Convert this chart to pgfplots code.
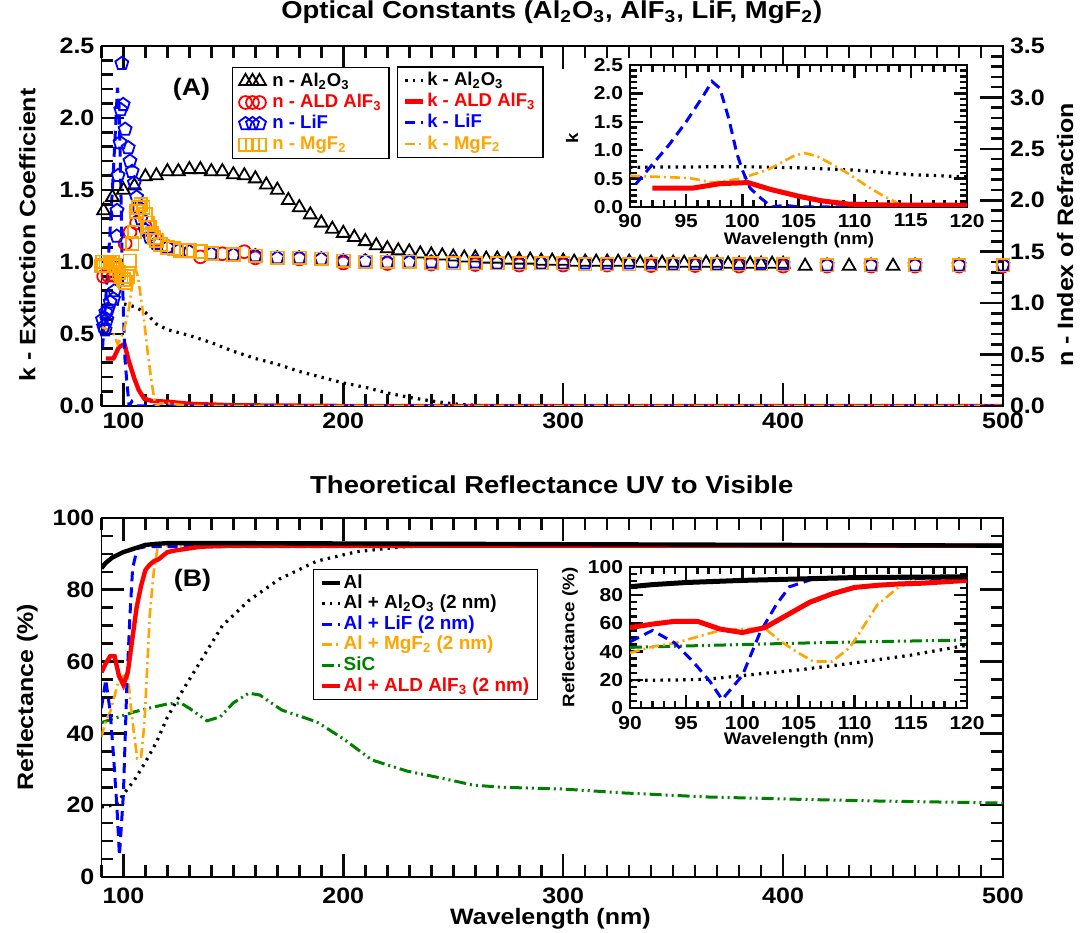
\documentclass[border=0pt]{standalone}
\usepackage{fontspec}
\setmainfont{Liberation Sans}[FakeStretch=1.12]
\newfontfamily\legfont{Liberation Sans}
\usepackage{pgfplots}
\pgfplotsset{compat=1.18}
\usepackage{pgfplotstable}

\definecolor{myorange}{RGB}{255,165,0}
\definecolor{mygreen}{RGB}{0,128,0}
\definecolor{tickgray}{RGB}{12,12,12}

\pgfplotstableread{
x y
90 0.70
95 0.705
100 0.71
105 0.69
110 0.65
115 0.57
120 0.53
130 0.49
140 0.44
150 0.38
160 0.33
170 0.29
180 0.24
190 0.20
200 0.16
210 0.13
220 0.09
230 0.06
240 0.035
250 0.015
260 0.005
270 0.0
500 0.0
}\kAlO
\pgfplotstableread{
x y
92 0.33
95.5 0.33
98 0.41
100.5 0.43
102.5 0.31
105 0.19
107 0.11
109.5 0.05
113 0.035
120 0.03
130 0.015
150 0.005
200 0.0
500 0.0
}\kAlF
\pgfplotstableread{
x y
90.5 0.40
92 0.75
93.5 1.10
95 1.50
96.5 1.95
97.3 2.21
98 2.09
98.8 1.55
99.5 0.95
100 0.65
100.7 0.33
101.5 0.18
102.6 0.0
103.8 0.03
105 0.0
500 0.0
}\kLiF
\pgfplotstableread{
x y
90 0.55
92.7 0.53
95.3 0.51
97.4 0.43
99.8 0.50
102.2 0.65
104.5 0.89
105.5 0.95
106.6 0.90
108 0.75
109.5 0.58
111 0.38
112.5 0.20
114 0.05
115 0.0
117 0.02
120 0.02
130 0.0
500 0.0
}\kMgF

\pgfplotstableread{
x y
91 1.90
95 2.03
100 2.10
105 2.14
110 2.23
115 2.24
120 2.28
125 2.28
130 2.30
135 2.30
140 2.28
145 2.28
150 2.25
155 2.24
160 2.21
165 2.15
170 2.10
175 2.00
180 1.93
185 1.86
190 1.78
195 1.72
200 1.68
205 1.64
210 1.60
215 1.56
220 1.53
225 1.51
230 1.50
235 1.48
240 1.47
245 1.46
250 1.45
255 1.44
260 1.44
265 1.43
270 1.43
275 1.42
280 1.42
285 1.42
290 1.41
295 1.41
300 1.41
305 1.40
310 1.40
315 1.40
320 1.40
325 1.40
330 1.40
335 1.39
340 1.39
345 1.39
350 1.39
355 1.39
360 1.39
365 1.39
370 1.39
375 1.38
380 1.38
385 1.38
390 1.38
395 1.38
400 1.38
410 1.36
430 1.36
450 1.36
}\nAlO
\pgfplotstableread{
x y
91 1.26
93 1.27
95.5 1.27
100.8 1.58
103 1.69
106 1.78
110 1.74
115 1.62
120 1.55
135 1.45
145 1.48
155 1.50
160 1.44
180 1.43
200 1.39
220 1.385
240 1.38
260 1.375
280 1.37
300 1.37
320 1.37
340 1.365
360 1.365
380 1.36
400 1.36
420 1.36
440 1.36
460 1.36
480 1.36
500 1.36
}\nAlF
\pgfplotstableread{
x y
90.5 0.84
91 0.77
91.7 0.74
92 0.91
92.5 0.84
93 0.94
94 1.01
95.5 1.04
96 1.12
97 1.65
97.1 1.90
97.6 2.24
98.5 2.56
98.8 2.88
99.3 3.33
99.9 2.93
100.8 2.69
102.2 2.51
103 2.38
104 2.28
105 2.17
106 2.03
107 1.93
108 1.82
110 1.71
112 1.64
115 1.58
120 1.54
125 1.51
130 1.50
140 1.48
150 1.47
160 1.46
170 1.44
180 1.44
190 1.43
200 1.41
210 1.41
220 1.40
230 1.40
240 1.40
250 1.40
260 1.40
270 1.39
280 1.39
290 1.39
300 1.39
310 1.39
320 1.39
330 1.39
340 1.39
350 1.38
360 1.38
370 1.38
380 1.38
390 1.38
400 1.38
420 1.37
440 1.37
460 1.37
480 1.37
500 1.37
}\nLiF
\pgfplotstableread{
x y
90 1.36
90.5 1.40
91 1.37
92 1.40
93 1.36
94 1.39
95 1.40
96 1.37
97 1.33
98 1.30
99 1.26
100 1.23
101 1.20
102 1.26
103 1.41
104 1.58
105 1.69
106 1.89
107 1.93
108 1.96
109 1.93
110 1.86
111 1.78
112 1.74
113 1.68
114 1.64
115 1.61
117 1.57
120 1.54
123 1.53
126 1.51
130 1.51
135 1.50
140 1.48
150 1.47
160 1.46
170 1.44
180 1.44
190 1.43
200 1.41
210 1.40
220 1.40
230 1.40
240 1.39
250 1.39
260 1.39
270 1.39
280 1.39
290 1.39
300 1.39
310 1.38
320 1.38
330 1.38
340 1.38
350 1.38
360 1.38
370 1.38
380 1.38
390 1.38
400 1.38
420 1.37
440 1.37
460 1.37
480 1.37
500 1.37
}\nMgF

\pgfplotstableread{
x y
90 86
92 87.5
95 89
100 90.5
105 91.5
110 92.5
115 92.8
120 93
150 93
200 92.9
300 92.7
400 92.5
500 92.3
}\rAl
\pgfplotstableread{
x y
90 19.5
95 20
97 20.5
100 23
105 27
110 32
115 37.5
120 44.5
126 51
135 60
145 70
157 77
171 83
188 88
206 90.6
227 92
250 92.3
300 92.4
500 92.3
}\rAlO
\pgfplotstableread{
x y
90 47
92 55
94 46
95.6 33
97.1 19
98.2 6
100 23
101.6 54
103 73
104.2 86
106.3 91.5
110 92
500 92.2
}\rLiF
\pgfplotstableread{
x y
90 39
92 43.5
94 46
96 50.5
98 55
100 56
102 56.5
103.3 48
104.8 40
106.3 33
108 33
109.5 42.5
110 48
112 73
113.8 85
115.6 92
120 92.3
500 92.3
}\rMgF
\pgfplotstableread{
x y
90 43
95 44
100 45
105 46
110 46.8
115 47.5
120 48.2
126 48.5
130 47
138 43.5
144 44.6
150 48.5
157 51.2
162 50.7
172 46.5
188 43.2
200 38.5
213 32.6
229 29.5
245 27.5
259 25.6
272 25
300 24.5
328 23.4
365 22.3
403 21.7
440 21.2
500 20.6
}\rSiC
\pgfplotstableread{
x y
90 57
92 59.5
94 61.5
96 61.5
98 56
100 53.5
102 57
104 66
106 75
108 81
110 85.5
112 87
114 88
116 88.5
118 89.5
120 90.5
124 91
135 92
150 92.3
500 92.3
}\rAlF

\tikzset{
  sAlO/.style={black, line width=1.6bp, dash pattern=on 1.2bp off 2.6bp},
  sAlF/.style={red, line width=2.2bp},
  sLiF/.style={blue, line width=1.5bp, dash pattern=on 5bp off 3bp},
  sMgF/.style={myorange, line width=1.3bp, dash pattern=on 5bp off 2bp on 1bp off 2bp},
  sSiC/.style={mygreen, line width=1.5bp, dash pattern=on 6bp off 2bp on 1bp off 2bp on 1bp off 2bp},
  sAl/.style={black, line width=2.2bp},
}

\pgfplotsset{
  every axis/.append style={
    scale only axis, font=\bfseries,
    axis line style={line width=0.8bp},
  },
  mainax/.style={
    tick style={tickgray, line width=1.3bp},
    major tick length=11.5bp, minor tick length=6bp,
    tick label style={font=\bfseries\fontsize{11.2}{13}\selectfont},
    label style={font=\bfseries\fontsize{11.2}{13}\selectfont},
    title style={font=\bfseries\fontsize{12.3}{14}\selectfont},
    /pgf/number format/assume math mode=true,
  },
  insetax/.style={
    tick style={tickgray, line width=1.2bp},
    major tick length=6.5bp, minor tick length=3.5bp,
    tick label style={font=\bfseries\fontsize{9.4}{11}\selectfont},
    label style={font=\bfseries\fontsize{8.4}{10}\selectfont},
    axis background/.style={fill=white},
    /pgf/number format/assume math mode=true,
  },
  lineleg/.style={
    legend image code/.code={\draw[##1] (0bp,0bp) -- (9bp,0bp);},
    legend cell align=left,
  },
  legbox/.style={
    legend style={draw=black, line width=0.7bp, fill=white,
      font=\legfont\bfseries\fontsize{9.3}{10}\selectfont,
      inner xsep=3bp, inner ysep=1.5bp, row sep=0bp,
      nodes={inner sep=0.8bp, text height=7bp, text depth=2bp}},
  },
}

\begin{document}
\begin{tikzpicture}
\useasboundingbox (0bp,0bp) rectangle (541bp,466.5bp);

% ================= Panel A: k axis =================
\begin{axis}[mainax,
  at={(50.7bp,263.5bp)}, anchor=south west, width=450.8bp, height=180bp,
  xmin=90, xmax=500, ymin=0, ymax=2.5,
  xtick={100,200,300,400,500}, minor xtick={90,100,...,500},
  ytick={0,0.5,...,2.5}, minor ytick={0.1,0.2,...,2.41},
  ytick pos=left,
  yticklabel style={/pgf/number format/.cd, fixed, fixed zerofill, precision=1},
  ylabel={k - Extinction Coefficient},
  ylabel style={at={(axis description cs:-0.082,0.475)}, anchor=center},
  title={Optical Constants (Al\textsubscript{2}O\textsubscript{3}, AlF\textsubscript{3}, LiF, MgF\textsubscript{2})},
  title style={at={(axis description cs:0.4995,1.061)}, anchor=center},
  lineleg, legbox,
  legend style={at={(0.3274,0.944)}, anchor=north west},
]
\addplot[sAlO] table {\kAlO};
\addlegendentry{k - Al\textsubscript{2}O\textsubscript{3}}
\addplot[sAlF] table {\kAlF};
\addlegendentry{\textcolor{red}{k - ALD AlF\textsubscript{3}}}
\addplot[sLiF] table {\kLiF};
\addlegendentry{\textcolor{blue}{k - LiF}}
\addplot[sMgF] table {\kMgF};
\addlegendentry{\textcolor{myorange}{k - MgF\textsubscript{2}}}
\node[font=\bfseries\fontsize{12}{14}\selectfont] at (axis description cs:0.0999,0.8806) {(A)};
\end{axis}

% ================= Panel A: n axis =================
\begin{axis}[mainax,
  at={(50.7bp,263.5bp)}, anchor=south west, width=450.8bp, height=180bp,
  xmin=90, xmax=500, ymin=0, ymax=3.5,
  axis x line=none, axis y line*=right,
  ytick={0,0.5,...,3.5}, minor ytick={0.1,0.2,...,3.41},
  yticklabel style={/pgf/number format/.cd, fixed, fixed zerofill, precision=1},
  ylabel={n - Index of Refraction},
  ylabel style={at={(axis description cs:1.0688,0.475)}, anchor=center},
  legend image code/.code={\path (-3.3bp,0bp) (12.3bp,0bp); \draw[#1] plot coordinates {(0bp,0bp) (3.5bp,0bp) (7bp,0bp)};},
  legend cell align=left, legbox,
  legend style={at={(0.1443,0.9417)}, anchor=north west},
]
\addplot[only marks, mark=triangle, mark size=3.7bp, black, mark options={line width=0.9bp}] table {\nAlO};
\addlegendentry{n - Al\textsubscript{2}O\textsubscript{3}}
\addplot[only marks, mark=o, mark size=3.2bp, red, mark options={line width=0.9bp}] table {\nAlF};
\addlegendentry{\textcolor{red}{n - ALD AlF\textsubscript{3}}}
\addplot[only marks, mark=pentagon, mark size=3.4bp, blue, mark options={line width=0.9bp}] table {\nLiF};
\addlegendentry{\textcolor{blue}{n - LiF}}
\addplot[only marks, mark=square, mark size=3.2bp, myorange, mark options={line width=0.9bp}] table {\nMgF};
\addlegendentry{\textcolor{myorange}{n - MgF\textsubscript{2}}}
\end{axis}

% ================= Inset A =================
\begin{axis}[insetax,
  at={(315bp,363bp)}, anchor=south west, width=168.5bp, height=71bp,
  xmin=90, xmax=120, ymin=0, ymax=2.5,
  xtick={90,95,...,120}, minor xtick={90,91,...,120},
  ytick={0,0.5,...,2.5}, minor ytick={0.1,0.2,...,2.41},
  yticklabel style={/pgf/number format/.cd, fixed, fixed zerofill, precision=1},
  xlabel={Wavelength (nm)}, ylabel={k},
  xlabel style={at={(axis description cs:0.5015,-0.232)}, anchor=center},
  ylabel style={at={(axis description cs:-0.172,0.486)}, anchor=center},
]
\addplot[sAlO] table {\kAlO};
\addplot[sMgF] table {\kMgF};
\addplot[sLiF] table {\kLiF};
\addplot[sAlF, line width=2.5bp] table {\kAlF};
\end{axis}

% ================= Panel B =================
\begin{axis}[mainax,
  at={(50.7bp,28bp)}, anchor=south west, width=450.8bp, height=179.5bp,
  xmin=90, xmax=500, ymin=0, ymax=100,
  xtick={100,200,300,400,500}, minor xtick={90,100,...,500},
  ytick={0,20,...,100}, minor ytick={5,10,...,95},
  xticklabel style={yshift=-2bp},
  xlabel={Wavelength (nm)}, ylabel={Reflectance (\%)},
  xlabel style={at={(axis description cs:0.498,-0.116)}, anchor=center},
  ylabel style={at={(axis description cs:-0.082,0.501)}, anchor=center},
  title={Theoretical Reflectance UV to Visible},
  title style={at={(axis description cs:0.4995,1.0585)}, anchor=center},
]
\addplot[sSiC] table {\rSiC};
\addplot[sAlO] table {\rAlO};
\addplot[sMgF] table {\rMgF};
\addplot[sLiF] table {\rLiF};
\addplot[sAlF] table {\rAlF};
\addplot[sAl] table {\rAl};
\node[font=\bfseries\fontsize{12}{14}\selectfont] at (axis description cs:0.101,0.827) {(B)};
\end{axis}

\begin{axis}[mainax,
  at={(50.7bp,28bp)}, anchor=south west, width=450.8bp, height=179.5bp,
  xmin=90, xmax=500, ymin=0, ymax=100, hide axis,
  lineleg, legbox,
  legend style={at={(0.2342,0.858)}, anchor=north west, inner xsep=3.5bp,
    font=\legfont\bfseries\fontsize{9.5}{10}\selectfont,
    nodes={inner sep=0.5bp, text height=7.2bp, text depth=2.1bp}},
]
\addlegendimage{sAl}
\addlegendentry{Al}
\addlegendimage{sAlO}
\addlegendentry{Al + Al\textsubscript{2}O\textsubscript{3} (2 nm)}
\addlegendimage{sLiF}
\addlegendentry{\textcolor{blue}{Al + LiF (2 nm)}}
\addlegendimage{sMgF}
\addlegendentry{\textcolor{myorange}{Al + MgF\textsubscript{2} (2 nm)}}
\addlegendimage{sSiC}
\addlegendentry{\textcolor{mygreen}{SiC}}
\addlegendimage{sAlF}
\addlegendentry{\textcolor{red}{Al + ALD AlF\textsubscript{3} (2 nm)}}
\end{axis}

% ================= Inset B =================
\begin{axis}[insetax,
  at={(315bp,112.5bp)}, anchor=south west, width=168.5bp, height=70.5bp,
  xmin=90, xmax=120, ymin=0, ymax=100,
  xtick={90,95,...,120}, minor xtick={90,91,...,120},
  ytick={0,20,...,100}, minor ytick={5,10,...,95},
  xticklabel style={yshift=-0.8bp},
  xlabel={Wavelength (nm)}, ylabel={Reflectance (\%)},
  xlabel style={at={(axis description cs:0.5015,-0.227)}, anchor=center},
  ylabel style={at={(axis description cs:-0.178,0.5)}, anchor=center},
]
\addplot[sSiC] table {\rSiC};
\addplot[sAlO] table {\rAlO};
\addplot[sMgF] table {\rMgF};
\addplot[sLiF] table {\rLiF};
\addplot[sAlF, line width=2.5bp] table {\rAlF};
\addplot[sAl, line width=2.5bp] table {\rAl};
\end{axis}
\end{tikzpicture}
\end{document}
